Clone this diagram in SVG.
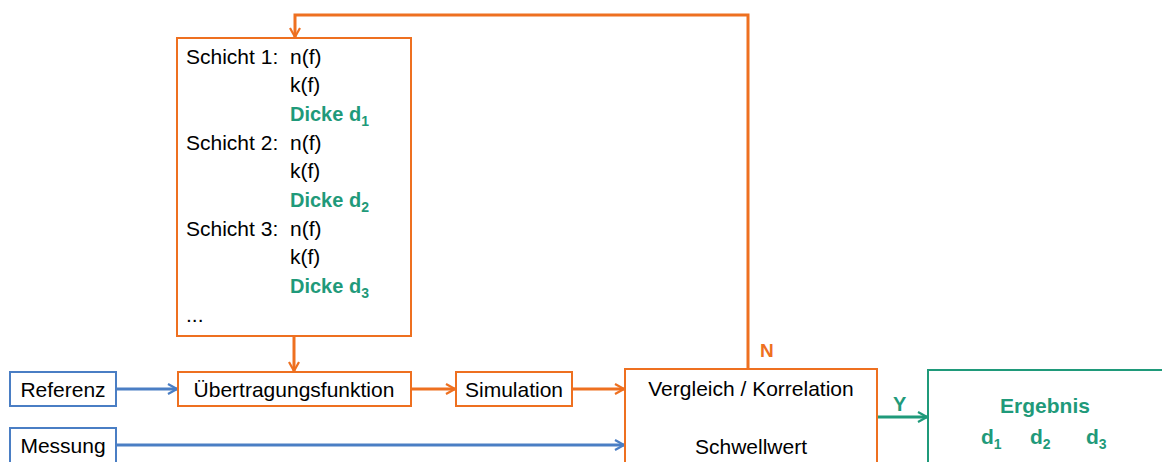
<svg xmlns="http://www.w3.org/2000/svg" width="1162" height="462" viewBox="0 0 1162 462">
<defs>
<style>
text{font-family:"Liberation Sans",Arial,sans-serif;font-size:21px;fill:#000}
.g{fill:#1f9a7a;font-weight:bold;font-size:20px}
.o{fill:#ee7020;font-weight:bold;font-size:19px}
.bo{fill:#fff;stroke:#ee7020;stroke-width:2}
.bb{fill:#fff;stroke:#4a7ec4;stroke-width:2}
.bg{fill:#fff;stroke:#1f9a7a;stroke-width:2}
.lo{fill:none;stroke:#ee7020;stroke-width:3}
.lb{fill:none;stroke:#4a7ec4;stroke-width:3}
.lg{fill:none;stroke:#1f9a7a;stroke-width:3}
.sub{font-size:14px}
.big{font-size:21px}
</style>
<marker id="ao" viewBox="0 0 12 12" refX="11" refY="6" markerWidth="12" markerHeight="12" markerUnits="userSpaceOnUse" orient="auto"><polyline points="2,1 11,6 2,11" fill="none" stroke="#ee7020" stroke-width="2.2"/></marker>
<marker id="ab" viewBox="0 0 12 12" refX="11" refY="6" markerWidth="12" markerHeight="12" markerUnits="userSpaceOnUse" orient="auto"><polyline points="2,1 11,6 2,11" fill="none" stroke="#4a7ec4" stroke-width="2.2"/></marker>
<marker id="ag" viewBox="0 0 12 12" refX="11" refY="6" markerWidth="12" markerHeight="12" markerUnits="userSpaceOnUse" orient="auto"><polyline points="2,1 11,6 2,11" fill="none" stroke="#1f9a7a" stroke-width="2.2"/></marker>
</defs>

<g id="connectors">
<polyline class="lo" points="748,368 748,15 295,15 295,37" marker-end="url(#ao)"/>
<line class="lo" x1="294" y1="337" x2="294" y2="371" marker-end="url(#ao)"/>
<line class="lb" x1="117" y1="389" x2="177" y2="389" marker-end="url(#ab)"/>
<line class="lo" x1="412" y1="389" x2="455" y2="389" marker-end="url(#ao)"/>
<line class="lo" x1="573" y1="389" x2="624" y2="389" marker-end="url(#ao)"/>
<line class="lb" x1="117" y1="445" x2="624" y2="445" marker-end="url(#ab)"/>
<line class="lg" x1="878" y1="417" x2="927" y2="417" marker-end="url(#ag)"/>
<text class="o" x="760" y="357">N</text>
<text class="g" x="893" y="411">Y</text>
</g>

<g id="schichten">
<rect class="bo" x="177" y="38" width="234" height="298"/>
<text x="186" y="64">Schicht 1:</text><text x="290" y="64">n(f)</text>
<text x="290" y="92">k(f)</text>
<text class="g" x="290" y="121">Dicke d<tspan class="sub" dy="5">1</tspan></text>
<text x="186" y="150">Schicht 2:</text><text x="290" y="150">n(f)</text>
<text x="290" y="178">k(f)</text>
<text class="g" x="290" y="207">Dicke d<tspan class="sub" dy="5">2</tspan></text>
<text x="186" y="236">Schicht 3:</text><text x="290" y="236">n(f)</text>
<text x="290" y="264">k(f)</text>
<text class="g" x="290" y="293">Dicke d<tspan class="sub" dy="5">3</tspan></text>
<text x="186" y="322">...</text>
</g>

<g id="referenz">
<rect class="bb" x="10" y="372" width="106" height="34"/>
<text x="63" y="397" text-anchor="middle">Referenz</text>
</g>

<g id="messung">
<rect class="bb" x="10" y="428" width="106" height="40"/>
<text x="63" y="453" text-anchor="middle">Messung</text>
</g>

<g id="uebertragung">
<rect class="bo" x="178" y="372" width="233" height="34"/>
<text x="294" y="397" text-anchor="middle">Übertragungsfunktion</text>
</g>

<g id="simulation">
<rect class="bo" x="456" y="372" width="116" height="34"/>
<text x="514" y="397" text-anchor="middle">Simulation</text>
</g>

<g id="vergleich">
<rect class="bo" x="625" y="369" width="252" height="100"/>
<text x="751" y="396" text-anchor="middle">Vergleich / Korrelation</text>
<text x="751" y="454" text-anchor="middle">Schwellwert</text>
</g>

<g id="ergebnis">
<rect class="bg" x="928" y="370" width="240" height="100"/>
<text class="g big" x="1045" y="413" text-anchor="middle">Ergebnis</text>
<text class="g big" x="981" y="444">d<tspan class="sub" dy="5">1</tspan></text>
<text class="g big" x="1030" y="444">d<tspan class="sub" dy="5">2</tspan></text>
<text class="g big" x="1086" y="444">d<tspan class="sub" dy="5">3</tspan></text>
</g>
</svg>
